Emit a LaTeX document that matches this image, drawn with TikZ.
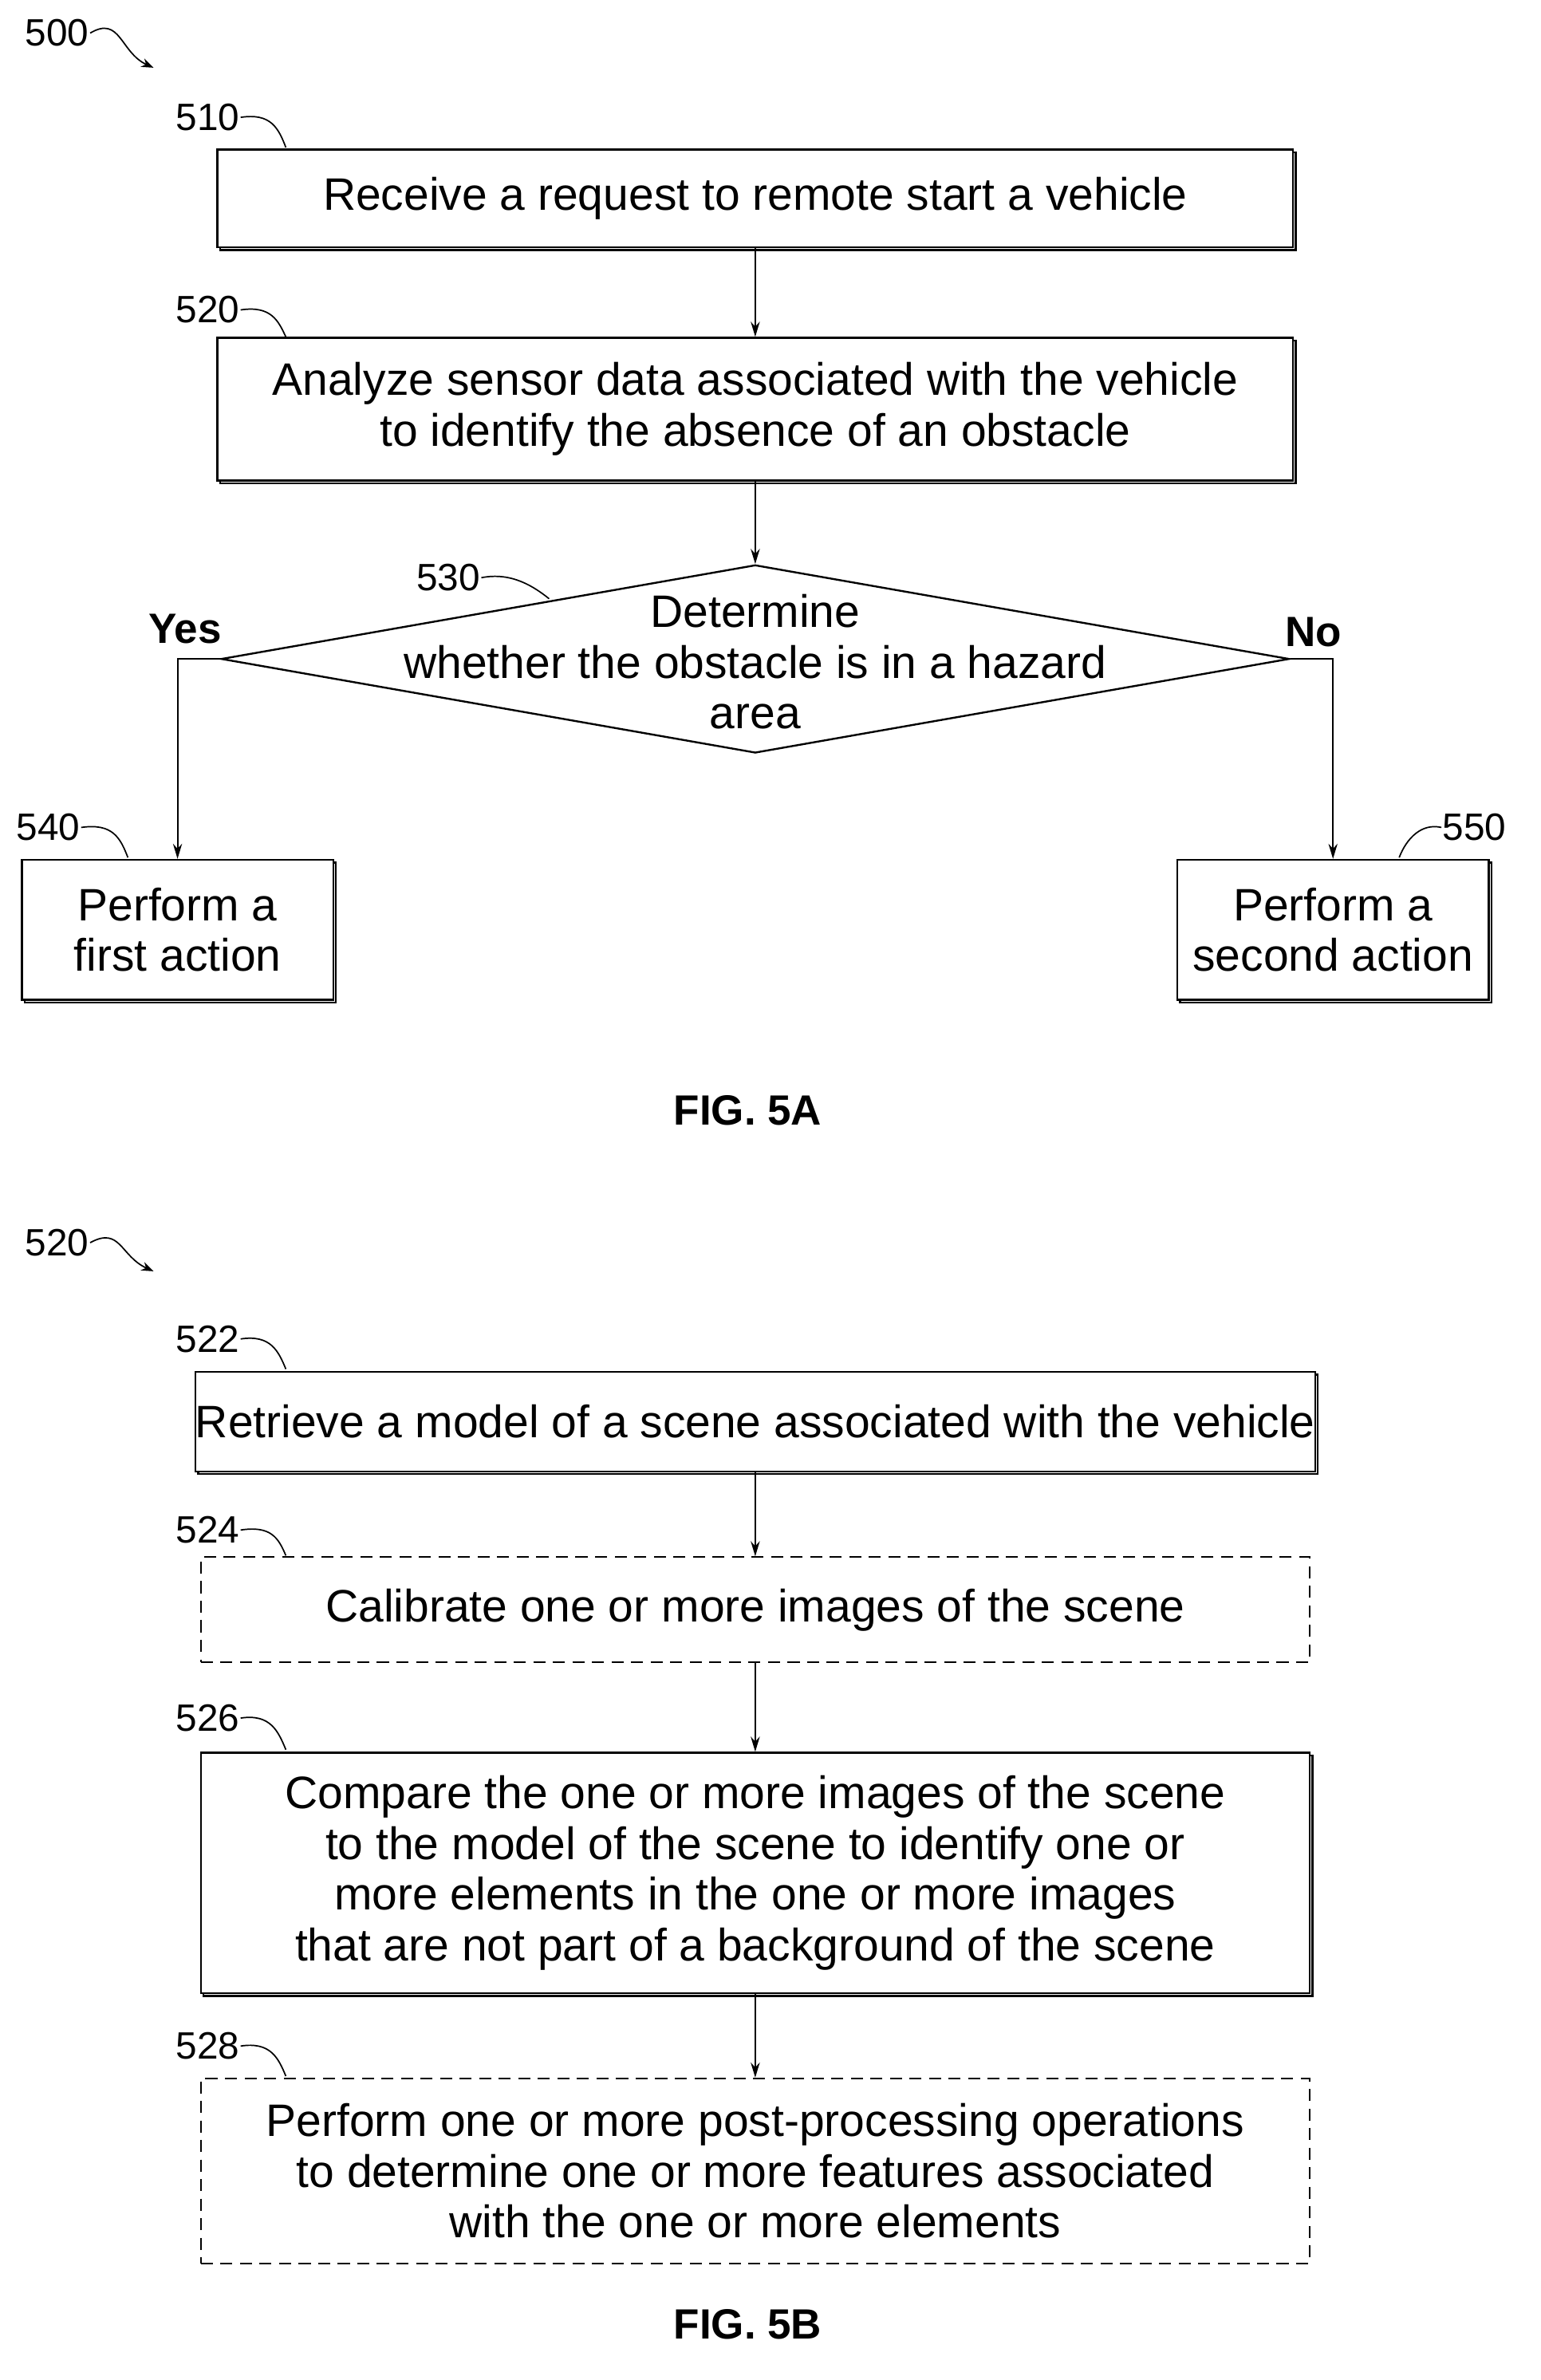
\documentclass[tikz,border=0pt]{standalone}
\usepackage{fontspec}
\setmainfont{Liberation Sans}
\usetikzlibrary{shapes.geometric,shadows,arrows.meta}
\begin{document}
\begin{tikzpicture}[x=0.5mm,y=-0.5mm,
	every node/.style={font=\fontsize{43}{48}\selectfont},
	box/.style={draw,fill=white,line width=1.8pt,align=center,inner sep=0pt,
		general shadow={shadow xshift=0.9mm,shadow yshift=-0.9mm,draw,fill=white,line width=1.8pt}},
	dbox/.style={draw,dash pattern=on 4mm off 2.5mm,line width=1.5pt,align=center,inner sep=0pt},
	ref/.style={font=\fontsize{36}{40}\selectfont,inner sep=1pt},
	lead/.style={line width=1.3pt},
	arr/.style={-{Stealth[length=5mm,width=3mm]},line width=1.6pt},
	figcap/.style={font=\fontsize{40}{46}\selectfont\bfseries}]
	\useasboundingbox (0,0) rectangle (1024,1582);
	% figure 5A
	\node[ref] (r500) at (38,22) {500};
	\coordinate (t500) at (102,45);
	\draw[lead,-{Stealth[length=4mm]}] (r500.east) .. controls (80,10) and (80,35) .. (t500);
	\node[box,minimum width=357.5mm,minimum height=32.5mm] (b510) at (502,132) {Receive a request to remote start a vehicle};
	\node[box,minimum width=357.5mm,minimum height=47.5mm] (b520) at (502,272) {Analyze sensor data associated with the vehicle\\to identify the absence of an obstacle};
	\node[diamond,draw,line width=1.8pt,inner sep=0pt,minimum width=355mm,minimum height=62.5mm] (d530) at (502,438) {};
	\node[align=center] (t530) at (502,440) {Determine\\whether the obstacle is in a hazard\\area};
	\node[box,minimum width=103.5mm,minimum height=46.5mm] (b540) at (118,618) {Perform a\\first action};
	\node[box,minimum width=103.5mm,minimum height=46.5mm] (b550) at (886,618) {Perform a\\second action};
	\node[font=\fontsize{40}{44}\selectfont\bfseries] (yes) at (123,418) {Yes};
	\node[font=\fontsize{40}{44}\selectfont\bfseries] (no) at (873,420) {No};
	\draw[arr] (b510) -- (b520);
	\draw[arr] (b520) -- (d530);
	\draw[arr] (d530.west) -| (b540.north);
	\draw[arr] (d530.east) -| (b550.north);
	\node[ref] (r510) at (138,78) {510};
	\node[ref] (r520) at (138,206) {520};
	\node[ref] (r530) at (298,384) {530};
	\node[ref] (r540) at (32,550) {540};
	\node[ref] (r550) at (980,550) {550};
	\draw[lead] (r510.east) .. controls (180,75) and (185,85) .. (190,98);
	\draw[lead] (r520.east) .. controls (180,203) and (185,213) .. (190,224);
	\draw[lead] (r530.east) .. controls (340,380) and (355,390) .. (365,398);
	\draw[lead] (r540.east) .. controls (75,547) and (80,557) .. (85,570);
	\draw[lead] (r550.west) .. controls (945,547) and (935,557) .. (930,570);
	\node[figcap] (f5a) at (497,738) {FIG. 5A};
	% figure 5B
	\node[ref] (r520b) at (38,826) {520};
	\coordinate (t520b) at (102,845);
	\draw[lead,-{Stealth[length=4mm]}] (r520b.east) .. controls (80,815) and (80,835) .. (t520b);
	\node[box,minimum width=368.5mm,minimum height=33mm] (b522) at (502,945) {Retrieve a model of a scene associated with the vehicle};
	\node[dbox,minimum width=368.5mm,minimum height=35mm] (b524) at (502,1070) {Calibrate one or more images of the scene};
	\node[box,minimum width=368.5mm,minimum height=80mm] (b526) at (502,1245) {Compare the one or more images of the scene\\to the model of the scene to identify one or\\more elements in the one or more images\\that are not part of a background of the scene};
	\node[dbox,minimum width=368.5mm,minimum height=61.5mm] (b528) at (502,1443) {Perform one or more post-processing operations\\to determine one or more features associated\\with the one or more elements};
	\draw[arr] (b522) -- (b524);
	\draw[arr] (b524) -- (b526);
	\draw[arr] (b526) -- (b528);
	\node[ref] (r522) at (138,890) {522};
	\node[ref] (r524) at (138,1017) {524};
	\node[ref] (r526) at (138,1142) {526};
	\node[ref] (r528) at (138,1360) {528};
	\foreach \r/\y in {522/910,524/1034,526/1163,528/1380}
		\draw[lead] (r\r.east) .. controls ++(20,-3) and (185,\y-12) .. (190,\y);
	\node[figcap] (f5b) at (497,1545) {FIG. 5B};
\end{tikzpicture}
\end{document}
